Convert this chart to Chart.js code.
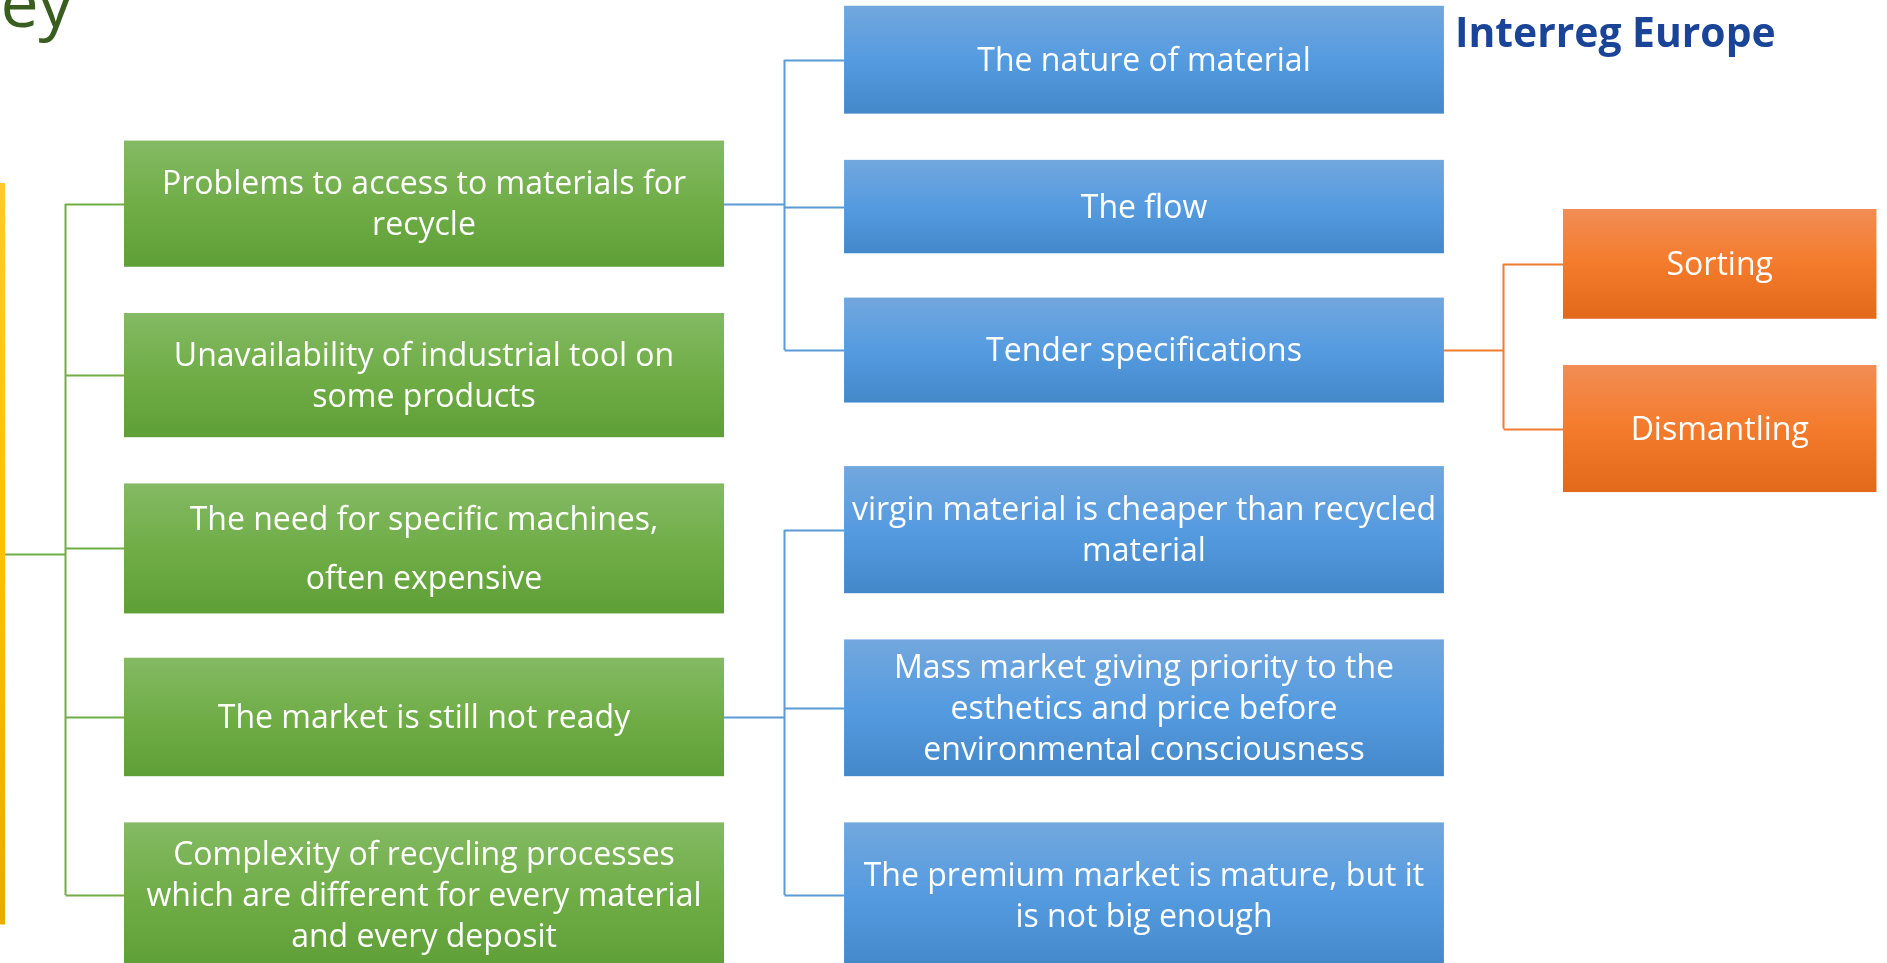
<!DOCTYPE html>
<html>
<head>
<meta charset="utf-8">
<title>Obstacles tree</title>
<script src="https://cdn.jsdelivr.net/npm/chart.js@4.4.0/dist/chart.umd.min.js"></script>
<style>
  html, body { margin: 0; padding: 0; background: #fff; overflow: hidden; }
  #wrap { width: 1887px; height: 963px; position: relative; }
</style>
</head>
<body>
<div id="wrap"><canvas id="tree"></canvas></div>
<script>
// node texts (one entry per box, lines already broken as in the slide)
const boxLabels = [
  [],
  ['Problems to access to materials for', 'recycle'],
  ['Unavailability of industrial tool on', 'some products'],
  ['The need for specific machines,', 'often expensive'],
  ['The market is still not ready'],
  ['Complexity of recycling processes', 'which are different for every material', 'and every deposit'],
  ['The nature of material'],
  ['The flow'],
  ['Tender specifications'],
  ['virgin material is cheaper than recycled', 'material'],
  ['Mass market giving priority to the', 'esthetics and price before', 'environmental consciousness'],
  ['The premium market is mature, but it', 'is not big enough'],
  ['Sorting'],
  ['Dismantling']
];
// column of each box and the box it hangs from
const boxLevel  = [0, 1, 1, 1, 1, 1, 2, 2, 2, 2, 2, 2, 3, 3];
const boxParent = [-1, 0, 0, 0, 0, 0, 1, 1, 1, 4, 4, 4, 8, 8];
// vertical extent of each box, in % of slide height (0 = top)
const boxTop    = [19.0, 14.6, 32.5, 50.2, 68.3, 85.4, 0.6, 16.6, 30.9, 48.4, 66.4, 85.4, 21.7, 37.9];
const boxBottom = [96.0, 27.7, 45.4, 63.7, 80.6, 100.5, 11.8, 26.3, 41.8, 61.6, 80.6, 100.5, 33.1, 51.1];

const titleTail = 'ey';
const logoText = 'Interreg Europe';

// column layout, % of slide width
const colLeft  = [0, 6.57, 44.73, 82.83];
const colRight = [0.27, 38.37, 76.52, 99.44];

const palette = [
  { top: '#ffca2e', mid: '#ffc000', bot: '#e6ac00', line: '#ffc000' },
  { top: '#84ba64', mid: '#70ad47', bot: '#5f9f37', line: '#70ad47' },
  { top: '#72a7dd', mid: '#559be0', bot: '#4388c9', line: '#5b9bd5' },
  { top: '#f18d55', mid: '#f47b2b', bot: '#e2691a', line: '#ed7d31' }
];
const lineSpacing = { 3: 1.42 };

const treePlugin = {
  id: 'tree',
  beforeDatasetsDraw(chart) {
    const { ctx, scales: { x, y } } = chart;
    const px = v => x.getPixelForValue(v);
    const py = v => y.getPixelForValue(v);
    const midY = i => py((boxTop[i] + boxBottom[i]) / 2);
    const snap = v => Math.round(v) + 0.5;

    ctx.save();
    // connectors, coloured like the children they lead to
    boxLabels.forEach((_, p) => {
      const kids = boxParent.map((q, i) => q === p ? i : -1).filter(i => i >= 0);
      if (!kids.length) return;
      const lvl = boxLevel[kids[0]];
      const x0 = px(colRight[boxLevel[p]]);
      const x1 = px(colLeft[lvl]);
      const xm = snap((x0 + x1) / 2);
      const ys = kids.map(midY);
      ctx.strokeStyle = palette[lvl].line;
      ctx.lineWidth = 2;
      ctx.beginPath();
      ctx.moveTo(x0, snap(midY(p)));
      ctx.lineTo(xm, snap(midY(p)));
      ctx.moveTo(xm, Math.min(...ys, midY(p)));
      ctx.lineTo(xm, Math.max(...ys, midY(p)));
      ys.forEach(yy => { ctx.moveTo(xm, snap(yy)); ctx.lineTo(x1, snap(yy)); });
      ctx.stroke();
    });

    // boxes
    boxLabels.forEach((lines, i) => {
      const lvl = boxLevel[i];
      const l = px(colLeft[lvl]), r = px(colRight[lvl]);
      const t = py(boxTop[i]), b = py(boxBottom[i]);
      const g = ctx.createLinearGradient(0, t, 0, b);
      g.addColorStop(0, palette[lvl].top);
      g.addColorStop(0.5, palette[lvl].mid);
      g.addColorStop(1, palette[lvl].bot);
      ctx.fillStyle = g;
      ctx.fillRect(l, t, r - l, b - t);

      ctx.fillStyle = '#ffffff';
      ctx.font = '32px "Open Sans"';
      ctx.textAlign = 'center';
      ctx.textBaseline = 'middle';
      const lh = 41 * (lineSpacing[i] || 1);
      const cy = (t + b) / 2 + 2 - (lines.length - 1) * lh / 2;
      lines.forEach((s, k) => ctx.fillText(s, (l + r) / 2, cy + k * lh, r - l - 4));
    });

    // slide furniture: clipped title and programme logo
    ctx.fillStyle = '#3a5e20';
    ctx.font = '68px "Open Sans"';
    ctx.textAlign = 'right';
    ctx.textBaseline = 'alphabetic';
    ctx.fillText(titleTail, px(3.85), py(2.8));

    ctx.fillStyle = '#1a4497';
    ctx.font = 'bold 41px "Open Sans"';
    ctx.textAlign = 'left';
    ctx.fillText(logoText, px(77.1), py(4.9), px(17.0));
    ctx.restore();
  }
};

function draw() {
  new Chart(document.getElementById('tree'), {
    type: 'scatter',
    data: {
      datasets: [{
        data: boxLabels.map((_, i) => ({
          x: (colLeft[boxLevel[i]] + colRight[boxLevel[i]]) / 2,
          y: (boxTop[i] + boxBottom[i]) / 2
        })),
        pointRadius: 0
      }]
    },
    options: {
      responsive: true,
      maintainAspectRatio: false,
      animation: false,
      layout: { padding: 0 },
      plugins: { legend: { display: false }, tooltip: { enabled: false } },
      events: [],
      scales: {
        x: { type: 'linear', min: 0, max: 100, display: false },
        y: { type: 'linear', min: 0, max: 100, reverse: true, display: false }
      }
    },
    plugins: [treePlugin]
  });
}

Promise.all([
  document.fonts.load('32px "Open Sans"'),
  document.fonts.load('bold 41px "Open Sans"')
]).then(draw, draw);
</script>
</body>
</html>
